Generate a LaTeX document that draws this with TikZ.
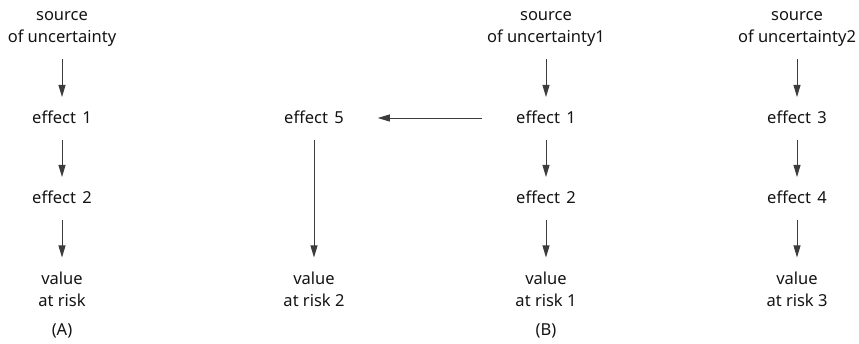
\documentclass[tikz,border=0pt]{standalone}
\usepackage{fontspec}
\setmainfont{Noto Sans}
\usetikzlibrary{arrows.meta}
\definecolor{arrowgray}{HTML}{3C3C3C}
\definecolor{txt}{HTML}{141414}
\newcommand{\eff}[1]{effect\ \hspace{2pt}#1}
\tikzset{
  lbl/.style={inner sep=0pt, outer sep=0pt, align=center, text=txt,
    font=\fontsize{16.5}{22}\selectfont},
  one/.style={lbl, text height=12pt, text depth=0pt, anchor=base},
  arr/.style={draw=arrowgray, line width=0.9pt,
    -{Triangle[length=12pt,width=7pt]}, shorten <=16pt, shorten >=15pt},
  harr/.style={arr, shorten <=34pt, shorten >=34pt}
}
\begin{document}
\begin{tikzpicture}[x=1pt,y=-1pt]
\useasboundingbox (0,0) rectangle (859,344);
% column A
\node[lbl, anchor=base] (srcA) at (62,43) {source\\of uncertainty};
\node[one] (a1) at (62,124) {\eff{1}};
\node[one] (a2) at (62,204) {\eff{2}};
\node[lbl, anchor=base] (valA) at (62,307) {value\\at risk};
\node[lbl, anchor=base] (labA) at (62,336) {(A)};
% column effect 5
\node[one] (e5) at (314,124) {\eff{5}};
\node[lbl, anchor=base] (val2) at (314,307) {value\\at risk 2};
% column B
\node[lbl, anchor=base] (srcB) at (546,43) {source\\of uncertainty1};
\node[one] (b1) at (546,124) {\eff{1}};
\node[one] (b2) at (546,204) {\eff{2}};
\node[lbl, anchor=base] (valB) at (546,307) {value\\at risk 1};
\node[lbl, anchor=base] (labB) at (546,336) {(B)};
% column C
\node[lbl, anchor=base] (srcC) at (797,43) {source\\of uncertainty2};
\node[one] (c1) at (797,124) {\eff{3}};
\node[one] (c2) at (797,204) {\eff{4}};
\node[lbl, anchor=base] (valC) at (797,307) {value\\at risk 3};
% arrows
\draw[arr, shorten <=12pt] (srcA) -- (a1);
\draw[arr] (a1) -- (a2);
\draw[arr] (a2) -- (valA);
\draw[arr, shorten <=12pt] (srcB) -- (b1);
\draw[arr] (b1) -- (b2);
\draw[arr] (b2) -- (valB);
\draw[arr, shorten <=12pt] (srcC) -- (c1);
\draw[arr] (c1) -- (c2);
\draw[arr] (c2) -- (valC);
\draw[harr] (b1.west) -- (e5.east);
\draw[arr] (e5) -- (val2);
\end{tikzpicture}
\end{document}
